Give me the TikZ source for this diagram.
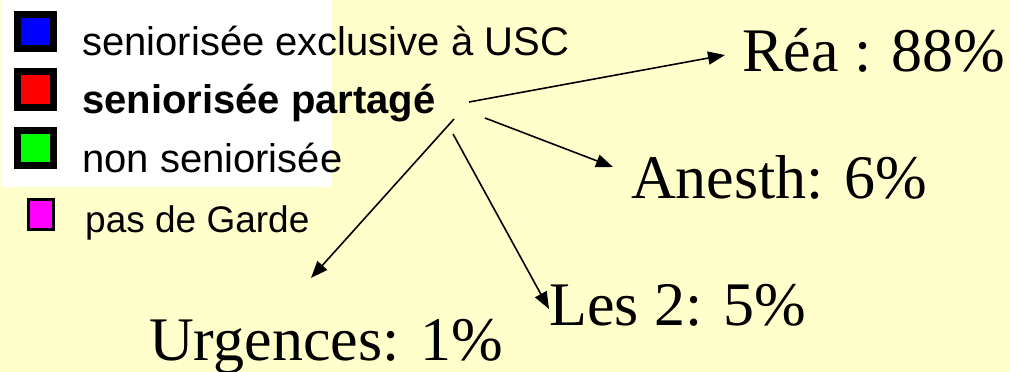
\documentclass[tikz,border=0pt]{standalone}
\usepackage{fontspec}
\setmainfont{Liberation Serif}
\newfontfamily\arialfont{Liberation Sans}
\usetikzlibrary{arrows.meta}
\definecolor{bgyellow}{HTML}{FFFFCC}
\definecolor{mymagenta}{HTML}{FF00FF}
\definecolor{mygreen}{HTML}{00FF00}
\definecolor{myblue}{HTML}{0000FF}
\definecolor{myred}{HTML}{FF0000}
\tikzset{
  legtext/.style={anchor=base west, inner sep=0pt, font=\arialfont\fontsize{40}{48}\selectfont},
  bigtext/.style={anchor=base west, inner sep=0pt, font=\fontsize{62}{72}\selectfont},
  legbox/.style={draw=black, line width=7pt},
  arr/.style={line width=1.6pt, -{Triangle[length=17pt,width=13pt]}}
}
\begin{document}
\begin{tikzpicture}[x=1pt,y=-1pt]
\fill[bgyellow] (0,0) rectangle (1010,372);
\useasboundingbox (0,0) rectangle (1010,372);
\fill[white] (1,0) rectangle (332,187);
% legend boxes
\filldraw[legbox, fill=myblue] (17.5,14.5) rectangle (53.5,48.5);
\filldraw[legbox, fill=myred] (17.5,71.5) rectangle (53.5,107.5);
\filldraw[legbox, fill=mygreen] (17.5,130.5) rectangle (53.5,165.5);
\filldraw[draw=black, line width=2.5pt, fill=mymagenta] (28.5,199.5) rectangle (53.5,229.5);
% legend texts
\node[legtext] (leg1) at (82,55) {seniorisée exclusive à USC};
\node[legtext, font=\arialfont\bfseries\fontsize{40}{48}\selectfont] (leg2) at (82,113) {seniorisée partagé};
\node[legtext] (leg3) at (82,172) {non seniorisée};
\node[legtext, font=\arialfont\fontsize{37}{44}\selectfont] (leg4) at (85,232) {pas de Garde};
% result labels
\node[bigtext] (rea) at (742,71) {Réa : 88\%};
\node[bigtext] (anesth) at (631,198) {Anesth: 6\%};
\node[bigtext] (urg) at (149,360) {Urgences: 1\%};
\node[bigtext] (les2) at (549,325) {Les 2: 5\%};
% arrow origins
\coordinate (s1) at (469,102);
\coordinate (s2) at (485,118);
\coordinate (s3) at (454,119);
\coordinate (s4) at (453,134);
% arrows
\draw[arr] (s1) -- ([shift={(-17,-16)}]rea.base west);
\draw[arr] (s2) -- ([shift={(-18,-31)}]anesth.base west);
\draw[arr] (s3) -- ([shift={(162,-82)}]urg.base west);
\draw[arr] (s4) -- ([shift={(0,-16)}]les2.base west);
\end{tikzpicture}
\end{document}
